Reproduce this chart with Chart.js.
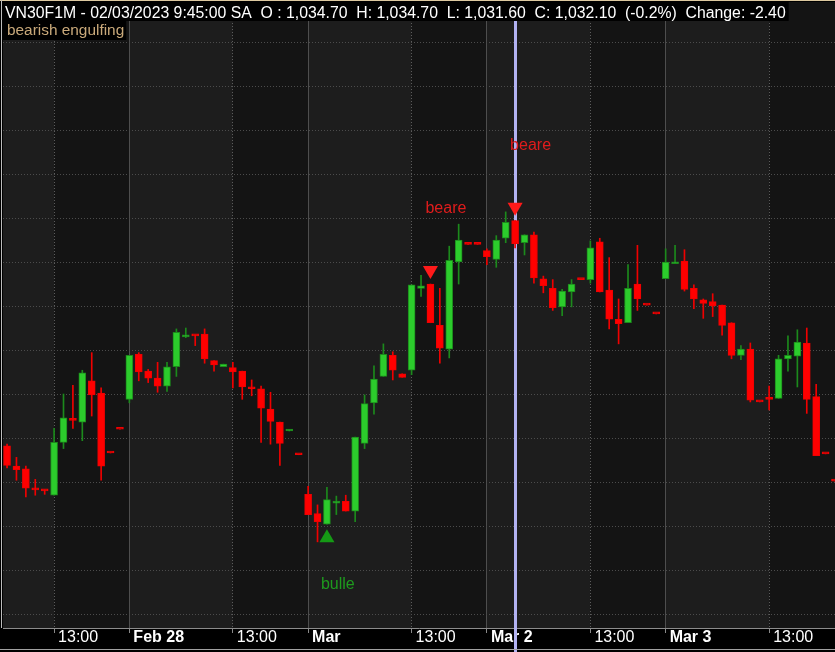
<!DOCTYPE html>
<html>
<head>
<meta charset="utf-8">
<script src="https://cdn.jsdelivr.net/npm/chart.js@4.4.1/dist/chart.umd.min.js"></script>
<style>
  html, body { margin: 0; padding: 0; background: #000; }
  canvas { display: block; }
</style>
</head>
<body>
<canvas id="chart" width="835" height="652"></canvas>
<script>
// VN30F1M - nến 15 phút, 27/02 -> 03/03/2023
const SYMBOL = 'VN30F1M';
const SELECTED_TIME = '02/03/2023 9:45:00 SA';
const PATTERN_NAME = 'bearish engulfing';

const OPEN = [
  1009.1, 1006.8, 1006.5, 1004.3, 1004.1, 1003.5, 1009.5, 1012.2, 1011.8, 1016.5,
  1015.1, 1008.3, 1011.0, 1014.4, 1019.5, 1017.6, 1016.8, 1015.9, 1018.1, 1021.5,
  1021.7, 1021.8, 1018.8, 1018.1, 1018.0, 1017.6, 1015.8, 1015.6, 1013.3, 1011.8,
  1010.8, 1008.1, 1003.6, 1001.4, 1000.2, 1002.6, 1002.8, 1001.7, 1009.4, 1014.0,
  1017.0, 1019.4, 1017.3, 1017.7, 1027.0, 1027.5, 1022.8, 1020.1, 1030.0, 1032.0,
  1032.0, 1031.3, 1030.3, 1032.7, 1034.7, 1032.2, 1033.1, 1028.1, 1027.0, 1024.9,
  1026.6, 1028.0, 1028.0, 1032.3, 1026.8, 1023.5, 1023.1, 1027.5, 1025.1, 1024.1,
  1028.1, 1029.8, 1030.1, 1027.0, 1025.7, 1025.5, 1025.1, 1023.1, 1019.4, 1020.1,
  1014.1, 1014.5, 1014.5, 1019.0, 1019.3, 1020.8, 1014.7, 1008.2, 1005.1
];
const HIGH = [
  1009.3, 1007.8, 1006.8, 1005.3, 1004.1, 1011.1, 1015.0, 1016.0, 1017.7, 1019.7,
  1015.7, 1008.3, 1011.0, 1019.4, 1019.7, 1017.8, 1018.6, 1018.6, 1022.4, 1022.5,
  1021.7, 1022.4, 1018.8, 1018.4, 1018.6, 1017.6, 1016.6, 1015.9, 1015.2, 1011.8,
  1010.9, 1008.1, 1004.5, 1002.4, 1004.4, 1003.4, 1003.5, 1010.1, 1014.9, 1018.2,
  1020.7, 1019.8, 1017.3, 1027.4, 1028.5, 1027.5, 1027.0, 1031.8, 1034.3, 1032.0,
  1032.0, 1031.5, 1033.0, 1035.7, 1034.7, 1033.1, 1033.4, 1028.4, 1028.0, 1026.9,
  1028.0, 1028.0, 1032.4, 1032.7, 1030.5, 1025.8, 1029.7, 1031.9, 1025.1, 1024.1,
  1031.5, 1031.9, 1031.4, 1027.4, 1025.8, 1026.4, 1025.1, 1023.1, 1020.5, 1020.8,
  1014.1, 1015.9, 1019.4, 1021.6, 1022.3, 1022.5, 1016.1, 1008.2, 1005.1
];
const LOW = [
  1006.6, 1005.2, 1003.3, 1003.5, 1003.6, 1003.5, 1008.8, 1011.1, 1009.7, 1012.5,
  1005.2, 1008.3, 1011.0, 1014.0, 1016.5, 1016.3, 1015.2, 1015.3, 1017.0, 1021.4,
  1020.5, 1018.5, 1017.6, 1018.1, 1015.7, 1014.4, 1014.8, 1009.5, 1009.3, 1006.9,
  1010.8, 1008.1, 1001.3, 998.2, 1000.2, 1001.3, 1001.7, 1000.5, 1008.8, 1012.7,
  1017.0, 1016.6, 1016.9, 1017.2, 1026.1, 1023.1, 1018.5, 1019.1, 1027.5, 1032.0,
  1032.0, 1029.7, 1029.4, 1032.2, 1031.6, 1030.8, 1027.6, 1026.5, 1024.5, 1023.9,
  1024.9, 1028.0, 1027.6, 1026.6, 1022.4, 1020.7, 1023.1, 1024.5, 1025.1, 1024.1,
  1028.1, 1029.8, 1026.7, 1024.7, 1023.6, 1023.8, 1021.7, 1019.0, 1018.9, 1014.1,
  1014.1, 1013.2, 1014.5, 1017.6, 1015.8, 1012.8, 1008.0, 1008.2, 1005.1
];
const CLOSE = [
  1006.9, 1006.4, 1004.3, 1004.1, 1004.0, 1009.5, 1012.3, 1012.0, 1017.4, 1014.9,
  1006.8, 1008.3, 1011.0, 1019.4, 1017.5, 1016.8, 1015.9, 1018.1, 1022.0, 1021.7,
  1021.6, 1019.0, 1018.3, 1018.4, 1017.5, 1015.8, 1015.6, 1013.4, 1011.9, 1009.4,
  1010.9, 1008.1, 1001.3, 1000.5, 1003.0, 1002.8, 1001.7, 1010.1, 1013.9, 1016.7,
  1019.5, 1017.7, 1016.9, 1027.4, 1027.3, 1023.1, 1020.2, 1030.2, 1032.5, 1032.0,
  1032.0, 1030.6, 1032.5, 1034.5, 1032.1, 1033.1, 1028.2, 1027.3, 1024.8, 1026.7,
  1027.5, 1028.0, 1031.6, 1026.6, 1023.5, 1023.0, 1027.0, 1025.8, 1025.1, 1024.1,
  1030.0, 1030.0, 1026.9, 1025.8, 1025.3, 1025.0, 1022.8, 1019.4, 1020.1, 1014.3,
  1014.1, 1014.4, 1019.0, 1019.4, 1020.9, 1014.4, 1008.0, 1008.2, 1005.1
];

// nhãn trục thời gian (chỉ số nến)
const TICK_INDEX = [5, 13, 24, 32, 43, 51, 62, 70, 81];
const TICK_LABELS = ['13:00', 'Feb 28', '13:00', 'Mar', '13:00', 'Mar 2', '13:00', 'Mar 3', '13:00'];
const Y_GRID = [990, 995, 1000, 1005, 1010, 1015, 1020, 1025, 1030, 1035, 1040, 1045, 1050, 1055];

// tín hiệu engulfing
const BULL_SIGNALS = [34];
const BEAR_SIGNALS = [45, 54];
const SELECTED = 54;

const FONT = '"Liberation Sans", Arial, sans-serif';
const UP_FILL = '#2ccc2c';
const UP_LINE = '#1c8a1c';
const DOWN_FILL = '#ff0000';
const DOWN_LINE = '#f00000';
const BAND_LIGHT = '#1d1d1d';
const BAND_DARK = '#141414';
const MARK_GAP = 1.55;

const idx = OPEN.map((_, i) => i);
const isUp = i => CLOSE[i] > OPEN[i];
const isDateTick = c => !!(c.tick && TICK_LABELS[TICK_INDEX.indexOf(c.tick.value)] !== '13:00');
const fmt = v => v.toLocaleString('en-US', { minimumFractionDigits: 2, maximumFractionDigits: 2 });

// nền xen kẽ sáng / tối theo phiên
const sessionBands = {
  id: 'sessionBands',
  beforeDraw(chart) {
    const { ctx, chartArea: a, scales: { x } } = chart;
    ctx.save();
    ctx.fillStyle = '#000';
    ctx.fillRect(0, 0, chart.width, chart.height);
    ctx.fillStyle = BAND_LIGHT;
    ctx.fillRect(a.left, a.top, a.width, a.height);
    ctx.fillStyle = BAND_DARK;
    TICK_INDEX.forEach((t, k) => {
      if (TICK_LABELS[k] !== '13:00') return;
      const x0 = x.getPixelForValue(t);
      const x1 = k + 1 < TICK_INDEX.length ? x.getPixelForValue(TICK_INDEX[k + 1]) : a.right;
      ctx.fillRect(x0, a.top, x1 - x0, a.height);
    });
    ctx.restore();
  },
  beforeDatasetsDraw(chart) {
    const { ctx, chartArea: a, scales: { x } } = chart;
    const px = Math.round(x.getPixelForValue(SELECTED));
    ctx.save();
    ctx.fillStyle = '#b2b2f2';
    ctx.fillRect(px - 1, a.top, 3, chart.height - a.top);
    ctx.restore();
  },
  afterDatasetsDraw(chart) {
    const { ctx, scales: { x, y } } = chart;
    ctx.save();
    ctx.font = '16px ' + FONT;
    ctx.textBaseline = 'middle';
    ctx.textAlign = 'left';
    ctx.fillStyle = '#e01c1c';
    BEAR_SIGNALS.forEach(i => {
      ctx.fillText('beare', x.getPixelForValue(i) - 5, y.getPixelForValue(HIGH[i]) - 75);
    });
    ctx.fillStyle = '#1e9a1e';
    BULL_SIGNALS.forEach(i => {
      ctx.fillText('bulle', x.getPixelForValue(i) - 6, y.getPixelForValue(LOW[i]) + 60);
    });
    ctx.restore();
  },
  afterDraw(chart) {
    const { ctx, chartArea: a } = chart;
    const s = SELECTED;
    const chg = CLOSE[s] - CLOSE[s - 1];
    const pct = (chg / CLOSE[s - 1] * 100).toFixed(1);
    const head = `${SYMBOL} - ${SELECTED_TIME}  O : ${fmt(OPEN[s])}  H: ${fmt(HIGH[s])}  L: ${fmt(LOW[s])}  C: ${fmt(CLOSE[s])}  (${pct}%)  Change: ${chg.toFixed(2)}`;
    ctx.save();
    ctx.fillStyle = '#ddc9a0';
    ctx.fillRect(0, 0, chart.width, 1);
    ctx.fillStyle = '#bdbdbd';
    ctx.fillRect(1, 0, 1, a.bottom);
    ctx.fillStyle = '#a0a0a0';
    ctx.fillRect(0, chart.height - 3, chart.width, 1);

    ctx.textBaseline = 'alphabetic';
    ctx.textAlign = 'left';
    ctx.font = '15.8px ' + FONT;
    let w = ctx.measureText(head).width;
    ctx.fillStyle = '#000';
    ctx.fillRect(2, 2, w + 6, 19);
    ctx.fillStyle = '#ffffff';
    ctx.fillText(head, 5, 18);

    ctx.font = '15.4px ' + FONT;
    w = ctx.measureText(PATTERN_NAME).width;
    ctx.fillStyle = '#000';
    ctx.fillRect(2, 21, w + 7, 19);
    ctx.fillStyle = '#c9a97a';
    ctx.fillText(PATTERN_NAME, 7, 35);
    ctx.restore();
  }
};

const ctx = document.getElementById('chart');
new Chart(ctx, {
  type: 'bar',
  data: {
    datasets: [
      {
        label: 'thân nến',
        order: 0,
        grouped: false,
        data: idx.map(i => ({ x: i, y: [Math.min(OPEN[i], CLOSE[i]), Math.max(OPEN[i], CLOSE[i])] })),
        barThickness: 7,
        minBarLength: 2,
        borderWidth: 1,
        borderSkipped: false,
        backgroundColor: c => isUp(c.dataIndex) ? UP_FILL : DOWN_FILL,
        borderColor: c => isUp(c.dataIndex) ? UP_LINE : DOWN_LINE
      },
      {
        label: 'bóng nến',
        order: 1,
        grouped: false,
        data: idx.map(i => ({ x: i, y: [LOW[i], HIGH[i]] })),
        barThickness: 1,
        backgroundColor: c => isUp(c.dataIndex) ? UP_LINE : DOWN_LINE
      },
      {
        type: 'scatter',
        label: 'bulle',
        order: -1,
        data: BULL_SIGNALS.map(i => ({ x: i, y: LOW[i] - MARK_GAP })),
        pointStyle: 'triangle',
        pointRadius: 8.7,
        pointBorderWidth: 0,
        pointBackgroundColor: '#159a15'
      },
      {
        type: 'scatter',
        label: 'beare',
        order: -1,
        data: BEAR_SIGNALS.map(i => ({ x: i, y: HIGH[i] + MARK_GAP })),
        pointStyle: 'triangle',
        pointRotation: 180,
        pointRadius: 8.7,
        pointBorderWidth: 0,
        pointBackgroundColor: '#ff1a1a'
      }
    ]
  },
  options: {
    responsive: false,
    animation: false,
    layout: { autoPadding: false, padding: { left: 3, top: 2, right: 0, bottom: 0 } },
    plugins: {
      legend: { display: false },
      tooltip: { enabled: false },
      title: { display: false }
    },
    scales: {
      x: {
        type: 'linear',
        offset: false,
        min: -0.43,
        max: 88.0,
        afterBuildTicks: s => { s.ticks = TICK_INDEX.map(v => ({ value: v })); },
        afterFit: s => { s.height = 24; },
        ticks: {
          autoSkip: false,
          maxRotation: 0,
          align: 'start',
          labelOffset: 4,
          padding: -5,
          color: '#ffffff',
          font: c => ({ family: FONT, size: 16, weight: isDateTick(c) ? 'bold' : 'normal' }),
          callback: (v, i) => TICK_LABELS[i]
        },
        grid: {
          offset: false,
          color: c => isDateTick(c) ? '#4e4e4e' : '#5c5c5c',
          tickLength: 5,
          tickColor: '#8a8a8a'
        },
        border: {
          display: true,
          color: '#8c8c8c',
          dash: c => (c.tick && !isDateTick(c)) ? [1, 2] : []
        }
      },
      y: {
        min: 988.41,
        max: 1059.55,
        offset: false,
        afterBuildTicks: s => { s.ticks = Y_GRID.map(v => ({ value: v })); },
        afterFit: s => { s.width = 0; },
        ticks: { display: false },
        grid: { color: '#4c4c4c', drawTicks: false },
        border: { display: false, dash: [1, 2] }
      }
    }
  },
  plugins: [sessionBands]
});
</script>
</body>
</html>
